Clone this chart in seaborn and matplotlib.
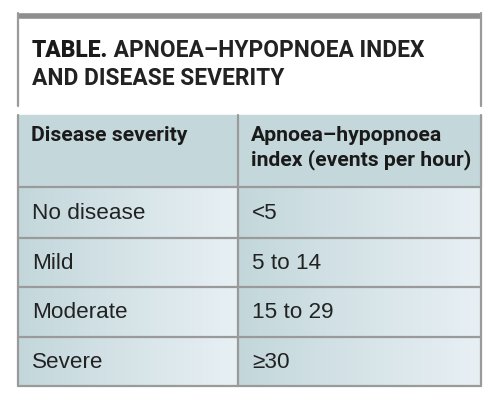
import numpy as np
import seaborn as sns
import matplotlib.pyplot as plt
from matplotlib.colors import LinearSegmentedColormap
from matplotlib.patches import Rectangle

# table contents
title_bold = 'TABLE.'
title_rest = ' APNOEA–HYPOPNOEA INDEX'
title_line2 = 'AND DISEASE SEVERITY'
headers = ['Disease severity', 'Apnoea–hypopnoea\nindex (events per hour)']
severity = ['No disease', 'Mild', 'Moderate', 'Severe']
ahi = ['<5', '5 to 14', '15 to 29', '≥30']

sns.set_theme(style='white')
plt.rcParams['font.family'] = ['Liberation Sans', 'DejaVu Sans']

fig = plt.figure(figsize=(5, 4.04), dpi=100)
ax = fig.add_axes([0, 0, 1, 1])
ax.set_xlim(0, 500)
ax.set_ylim(404, 0)
ax.axis('off')

grey = '#9a9a9a'
x0, x1, xm = 18, 481, 238
cols = [(x0, xm), (xm, x1)]

# title box
ax.plot([x0, x1], [15.5, 15.5], color='#8e8e8e', lw=4, solid_capstyle='butt')
ax.plot([x0, x0], [13, 106], color=grey, lw=1.6)
ax.plot([x1, x1], [13, 106], color=grey, lw=1.6)
tfont = ['Roboto', 'DejaVu Sans']
t = ax.text(32, 57, title_bold, fontsize=16.4, fontweight='black', va='baseline',
            family=tfont, color='#1a1a1a')
fig.canvas.draw()
bb = t.get_window_extent()
ax.text(32 + bb.width, 57, title_rest, fontsize=16.4, fontweight='bold', va='baseline',
        family=tfont, color='#222222')
ax.text(32, 85, title_line2, fontsize=16.4, fontweight='bold', va='baseline',
        family=tfont, color='#222222')

# header row
hy0, hy1 = 115, 187
ax.add_patch(Rectangle((x0, hy0), x1 - x0, hy1 - hy0, color='#c4d8dc', zorder=1))
for (cx0, cx1), h in zip(cols, headers):
    ax.text(cx0 + 13, 126, h, fontsize=15.2, fontweight='bold', va='top',
            linespacing=1.25, color='#1a1a1a', family=tfont, zorder=3)

# data rows with horizontal gradient
cmap = LinearSegmentedColormap.from_list('cell', ['#c3d7db', '#e8f0f4'])
grad = np.linspace(0, 1, 256).reshape(1, -1)
row_edges = [187, 238, 287, 337, 386]
for i, (sev, val) in enumerate(zip(severity, ahi)):
    ry0, ry1 = row_edges[i], row_edges[i + 1]
    for (cx0, cx1), txt in zip(cols, [sev, val]):
        ax.imshow(grad, cmap=cmap, aspect='auto', extent=(cx0, cx1, ry1, ry0),
                  zorder=1, interpolation='bilinear')
        ax.text(cx0 + 14, (ry0 + ry1) / 2 + 1, txt, fontsize=16.2, va='center',
                color='#222222', zorder=3)

# grid lines
for y in row_edges:
    ax.plot([x0, x1], [y, y], color=grey, lw=1.6, zorder=2)
for x in [x0, xm, x1]:
    ax.plot([x, x], [hy0, row_edges[-1]], color=grey, lw=1.6, zorder=2)

ax.set_xlim(0, 500)
ax.set_ylim(404, 0)
fig.savefig('out.png', dpi=100)
